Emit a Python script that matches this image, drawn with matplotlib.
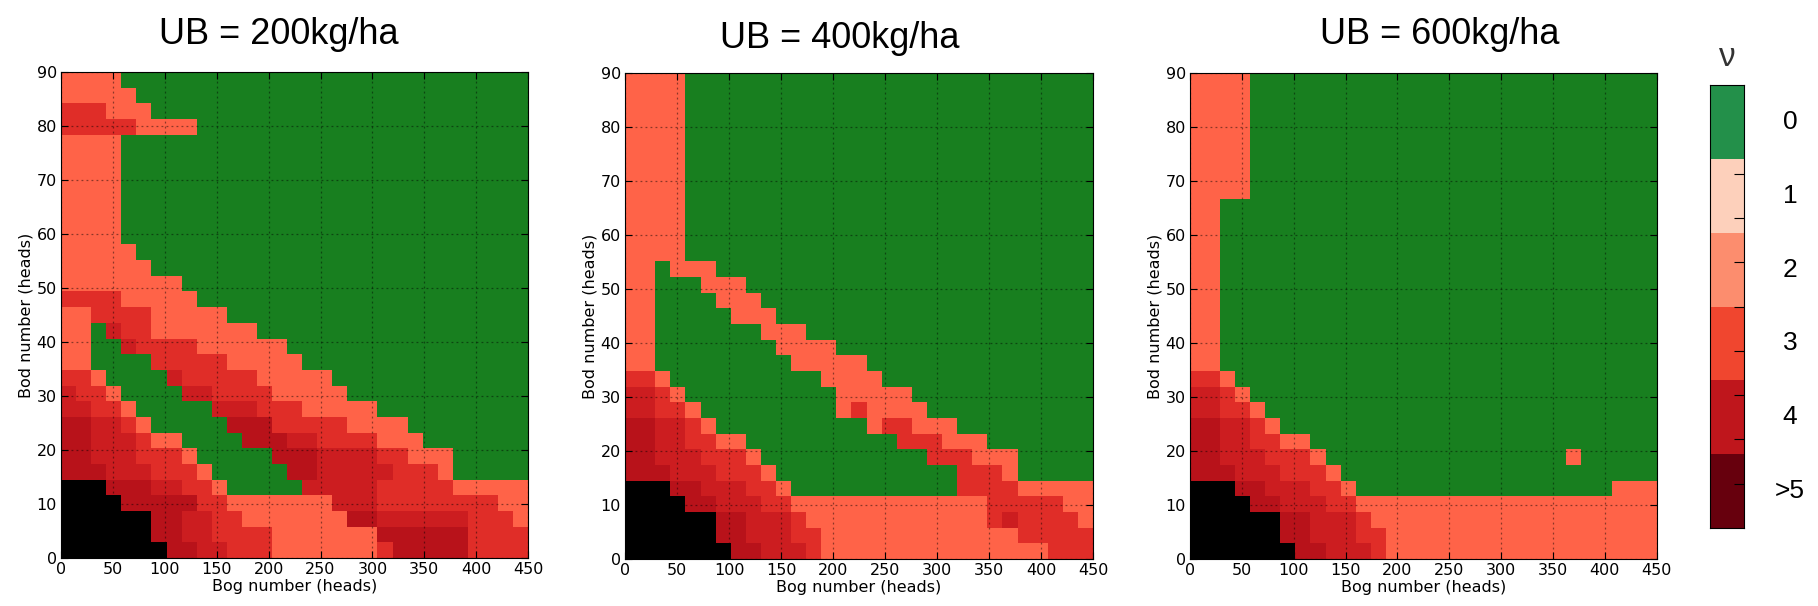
import numpy as np
import matplotlib
matplotlib.use('Agg')
import matplotlib.pyplot as plt
from matplotlib.colors import ListedColormap, BoundaryNorm

# cell categories: 0 green, 1 salmon, 2 red, 3 dark red, 4 darker red, 5 black
cell_colors = ['#187f1f', '#ff6348', '#e02d28', '#cc1d20', '#b8121a', '#000000']

titles = ['UB = 200kg/ha', 'UB = 400kg/ha', 'UB = 600kg/ha']

# run-length rows (value, count), listed from top (bod ~90) down to bottom (bod 0)
# 31 bog columns x 31 bod rows per panel
ub200_rows = [
    [(1, 4), (0, 27)],
    [(1, 5), (0, 26)],
    [(2, 3), (1, 3), (0, 25)],
    [(2, 5), (1, 4), (0, 22)],
    [(1, 4), (0, 27)],
    [(1, 4), (0, 27)],
    [(1, 4), (0, 27)],
    [(1, 4), (0, 27)],
    [(1, 4), (0, 27)],
    [(1, 4), (0, 27)],
    [(1, 4), (0, 27)],
    [(1, 5), (0, 26)],
    [(1, 6), (0, 25)],
    [(1, 8), (0, 23)],
    [(2, 4), (1, 5), (0, 22)],
    [(1, 2), (2, 4), (1, 5), (0, 20)],
    [(1, 2), (0, 1), (3, 1), (2, 2), (1, 7), (0, 18)],
    [(1, 2), (0, 2), (3, 1), (2, 4), (1, 6), (0, 16)],
    [(1, 2), (0, 4), (2, 5), (1, 5), (0, 15)],
    [(2, 2), (1, 1), (0, 4), (3, 1), (2, 5), (1, 5), (0, 13)],
    [(3, 1), (2, 2), (1, 1), (0, 4), (3, 2), (2, 4), (1, 5), (0, 12)],
    [(3, 2), (2, 2), (1, 1), (0, 5), (3, 3), (2, 3), (1, 5), (0, 10)],
    [(4, 2), (3, 2), (2, 1), (1, 1), (0, 5), (4, 3), (2, 5), (1, 4), (0, 8)],
    [(4, 2), (3, 3), (2, 1), (1, 2), (0, 4), (4, 3), (3, 2), (2, 4), (1, 3), (0, 7)],
    [(4, 2), (3, 3), (2, 3), (1, 1), (0, 5), (4, 3), (3, 4), (2, 2), (1, 3), (0, 5)],
    [(4, 3), (3, 3), (2, 3), (1, 1), (0, 5), (4, 2), (3, 5), (2, 3), (1, 1), (0, 5)],
    [(5, 3), (4, 3), (3, 2), (2, 2), (1, 1), (0, 5), (3, 5), (2, 5), (1, 5)],
    [(5, 4), (4, 5), (2, 2), (1, 7), (3, 3), (2, 8), (1, 2)],
    [(5, 6), (4, 2), (3, 2), (2, 2), (1, 7), (4, 2), (3, 6), (2, 3), (1, 1)],
    [(5, 6), (4, 2), (3, 2), (2, 4), (1, 7), (4, 6), (2, 4)],
    [(5, 7), (4, 2), (3, 2), (2, 3), (1, 7), (2, 1), (4, 5), (2, 4)],
]

ub400_rows = [
    [(1, 4), (0, 27)],
    [(1, 4), (0, 27)],
    [(1, 4), (0, 27)],
    [(1, 4), (0, 27)],
    [(1, 4), (0, 27)],
    [(1, 4), (0, 27)],
    [(1, 4), (0, 27)],
    [(1, 4), (0, 27)],
    [(1, 4), (0, 27)],
    [(1, 4), (0, 27)],
    [(1, 4), (0, 27)],
    [(1, 4), (0, 27)],
    [(1, 2), (0, 1), (1, 3), (0, 25)],
    [(1, 2), (0, 3), (1, 3), (0, 23)],
    [(1, 2), (0, 4), (1, 3), (0, 22)],
    [(1, 2), (0, 5), (1, 3), (0, 21)],
    [(1, 2), (0, 7), (1, 3), (0, 19)],
    [(1, 2), (0, 8), (1, 4), (0, 17)],
    [(1, 2), (0, 9), (1, 5), (0, 15)],
    [(2, 2), (1, 1), (0, 10), (1, 4), (0, 14)],
    [(3, 2), (2, 1), (1, 1), (0, 10), (1, 5), (0, 12)],
    [(3, 2), (2, 2), (1, 1), (0, 9), (1, 1), (2, 1), (1, 4), (0, 11)],
    [(4, 2), (3, 2), (2, 1), (1, 1), (0, 10), (1, 1), (2, 2), (1, 3), (0, 9)],
    [(4, 2), (3, 2), (2, 2), (1, 2), (0, 10), (2, 3), (1, 3), (0, 7)],
    [(4, 2), (3, 3), (2, 3), (1, 1), (0, 11), (2, 3), (1, 3), (0, 5)],
    [(4, 3), (3, 3), (2, 3), (1, 1), (0, 12), (2, 3), (1, 1), (0, 5)],
    [(5, 3), (4, 2), (3, 3), (2, 2), (1, 1), (0, 11), (2, 4), (1, 5)],
    [(5, 4), (4, 2), (3, 3), (2, 2), (1, 13), (2, 5), (1, 2)],
    [(5, 6), (4, 2), (3, 3), (2, 1), (1, 12), (2, 1), (3, 1), (2, 4), (1, 1)],
    [(5, 6), (4, 2), (3, 3), (2, 2), (1, 13), (2, 5)],
    [(5, 7), (4, 2), (3, 3), (2, 1), (1, 15), (2, 3)],
]

ub600_rows = [
    [(1, 4), (0, 27)],
    [(1, 4), (0, 27)],
    [(1, 4), (0, 27)],
    [(1, 4), (0, 27)],
    [(1, 4), (0, 27)],
    [(1, 4), (0, 27)],
    [(1, 4), (0, 27)],
    [(1, 4), (0, 27)],
    [(1, 2), (0, 29)],
    [(1, 2), (0, 29)],
    [(1, 2), (0, 29)],
    [(1, 2), (0, 29)],
    [(1, 2), (0, 29)],
    [(1, 2), (0, 29)],
    [(1, 2), (0, 29)],
    [(1, 2), (0, 29)],
    [(1, 2), (0, 29)],
    [(1, 2), (0, 29)],
    [(1, 2), (0, 29)],
    [(2, 2), (1, 1), (0, 28)],
    [(3, 2), (2, 1), (1, 1), (0, 27)],
    [(3, 2), (2, 2), (1, 1), (0, 26)],
    [(4, 2), (3, 2), (2, 1), (1, 1), (0, 25)],
    [(4, 2), (3, 2), (2, 2), (1, 2), (0, 23)],
    [(4, 2), (3, 3), (2, 3), (1, 1), (0, 16), (1, 1), (0, 5)],
    [(4, 3), (3, 3), (2, 3), (1, 1), (0, 21)],
    [(5, 3), (4, 2), (3, 3), (2, 2), (1, 1), (0, 17), (1, 3)],
    [(5, 4), (4, 2), (3, 3), (2, 2), (1, 20)],
    [(5, 6), (4, 2), (3, 3), (2, 1), (1, 19)],
    [(5, 6), (4, 2), (3, 3), (2, 2), (1, 18)],
    [(5, 7), (4, 2), (3, 3), (2, 1), (1, 18)],
]

# separate legend bar
cbar_labels = ['0', '1', '2', '3', '4', '>5']
cbar_colors = ['#23904a', '#fdd0bb', '#fc8d6e', '#f0462f', '#bf161c', '#67000d']


def expand(rows):
    grid = []
    for row in rows:
        cells = []
        for val, n in row:
            cells += [val] * n
        assert len(cells) == 31, (row, len(cells))
        grid.append(cells)
    return np.array(grid[::-1])  # bottom row first


fig = plt.figure(figsize=(18.18, 6.06), dpi=100)

cmap = ListedColormap(cell_colors)
norm = BoundaryNorm(np.arange(-0.5, 6.5, 1), cmap.N)
bog_edges = np.linspace(0, 450, 32)
bod_edges = np.linspace(0, 90, 32)

panel_pos = [[0.0336, 0.0792, 0.2569, 0.802],
             [0.3438, 0.0775, 0.2574, 0.8015],
             [0.6546, 0.0775, 0.2567, 0.8015]]
title_pos = [(0.1535, 0.943), (0.462, 0.937), (0.792, 0.943)]

for rows, pos, title, tpos in zip([ub200_rows, ub400_rows, ub600_rows],
                                  panel_pos, titles, title_pos):
    ax = fig.add_axes(pos)
    ax.pcolormesh(bog_edges, bod_edges, expand(rows), cmap=cmap, norm=norm)
    ax.set_xlim(0, 450)
    ax.set_ylim(0, 90)
    ax.set_xticks(range(0, 451, 50))
    ax.set_yticks(range(0, 91, 10))
    ax.tick_params(direction='in', top=True, right=True, length=5,
                   labelsize=11.5, pad=3)
    ax.grid(True, color='black', linestyle=(0, (1.5, 2.5)), linewidth=0.9, alpha=0.45)
    ax.set_axisbelow(False)
    ax.set_xlabel('Bog number (heads)', fontsize=11.5, labelpad=1)
    ax.set_ylabel('Bod number (heads)', fontsize=11.5, labelpad=2)
    fig.text(tpos[0], tpos[1], title, fontsize=26, family='Liberation Sans',
             ha='center', va='center')

# colour key
cax = fig.add_axes([0.9406, 0.1287, 0.0187, 0.731])
cax.pcolormesh([0, 1], np.linspace(0, 1, 7), np.arange(6)[::-1].reshape(6, 1),
               cmap=ListedColormap(cbar_colors), vmin=-0.5, vmax=5.5)
cax.set_xlim(0, 1)
cax.set_ylim(0, 1)
cax.set_xticks([])
cax.set_yticks(np.arange(0.1, 0.85, 0.1))
cax.tick_params(axis='y', direction='in', left=False, right=True,
                labelleft=False, length=7, width=0.8)
for i, lab in enumerate(cbar_labels):
    cax.text(2.35, 1 - (i + 0.5) / 6, lab, transform=cax.transAxes,
             fontsize=19, family='Liberation Sans', ha='center', va='center')
cax.text(0.5, 1.063, 'ν', transform=cax.transAxes, fontsize=24,
         family='Liberation Sans', ha='center', va='center', color='#333333')

fig.savefig('out.png', dpi=100)
